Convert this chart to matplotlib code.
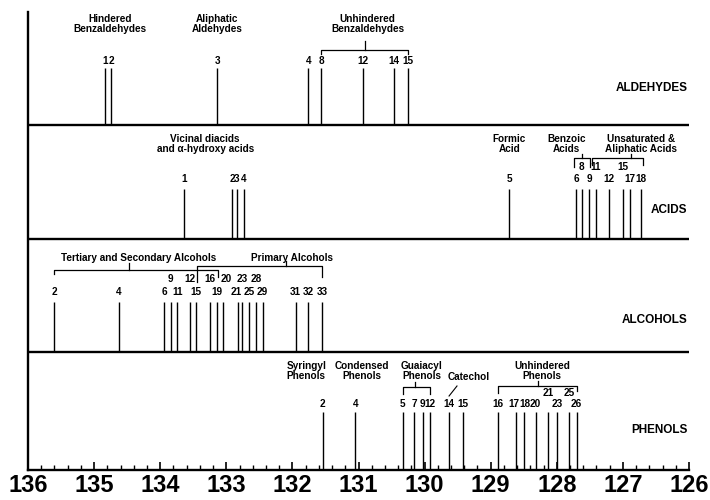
import matplotlib
matplotlib.use("Agg")
import matplotlib.pyplot as plt
from matplotlib.ticker import MultipleLocator

plt.rcParams["font.family"] = ["Liberation Sans", "DejaVu Sans"]
plt.rcParams["font.weight"] = "bold"

# line positions (ppm) and compound numbers
ald_ppm = [134.84, 134.74, 133.14, 131.76, 131.56, 130.93, 130.46, 130.25]
ald_lab = ["1", "2", "3", "4", "8", "12", "14", "15"]
ald_upper = []

acid_ppm = [133.64, 132.91, 132.84, 132.73, 128.72, 127.71, 127.62, 127.51,
            127.41, 127.21, 127.00, 126.90, 126.72]
acid_lab = ["1", "2", "3", "4", "5", "6", "8", "9", "11", "12", "15", "17", "18"]
acid_upper = ["8", "11", "15"]

alc_ppm = [135.60, 134.63, 133.94, 133.84, 133.74, 133.55, 133.46, 133.25, 133.14,
           133.05, 132.83, 132.76, 132.65, 132.55, 132.45, 131.95, 131.76, 131.55]
alc_lab = ["2", "4", "6", "9", "11", "12", "15", "16", "19", "20", "21", "23",
           "25", "28", "29", "31", "32", "33"]
alc_upper = ["9", "12", "16", "20", "23", "28"]

phe_ppm = [131.54, 131.05, 130.33, 130.16, 130.03, 129.92, 129.63, 129.42, 128.89,
           128.61, 128.50, 128.32, 128.13, 128.00, 127.81, 127.70]
phe_lab = ["2", "4", "5", "7", "9", "12", "14", "15", "16", "17", "18", "20",
           "21", "23", "25", "26"]
phe_upper = ["21", "25"]

panel_names = ["ALDEHYDES", "ACIDS", "ALCOHOLS", "PHENOLS"]

# group captions: (text, ppm of centre)
ald_groups = [("Hindered\nBenzaldehydes", 134.76), ("Aliphatic\nAldehydes", 133.14),
              ("Unhindered\nBenzaldehydes", 130.86)]
acid_groups = [("Vicinal diacids\nand \u03b1-hydroxy acids", 133.32), ("Formic\nAcid", 128.72),
               ("Benzoic\nAcids", 127.85), ("Unsaturated &\nAliphatic Acids", 126.72)]
alc_groups = [("Tertiary and Secondary Alcohols", 134.32), ("Primary Alcohols", 132.01)]
phe_groups = [("Syringyl\nPhenols", 131.79), ("Condensed\nPhenols", 130.95),
              ("Guaiacyl\nPhenols", 130.04), ("Catechol", 129.34),
              ("Unhindered\nPhenols", 128.22)]

# vertical layout, in pixel rows of the 500 px figure (axis runs 12..470)
base = [125, 239, 352, 470]
top = [68, 189, 302, 412]
row_lo = [61, 179, 292, 404]
row_hi = [61, 167, 279, 393]
title_y = [24, 144, 252, 371]
label_y = [88, 210, 320, 430]

fig = plt.figure(figsize=(7.1, 5.0), dpi=100)
ax = fig.add_axes([28 / 710, 30 / 500, 661 / 710, 458 / 500])
ax.set_xlim(136, 126)
ax.set_ylim(470, 12)

panels = [(ald_ppm, ald_lab, ald_upper, ald_groups),
          (acid_ppm, acid_lab, acid_upper, acid_groups),
          (alc_ppm, alc_lab, alc_upper, alc_groups),
          (phe_ppm, phe_lab, phe_upper, phe_groups)]

nudge = {("PHENOLS", "17"): -2.0, ("PHENOLS", "18"): 0.8, ("ALCOHOLS", "20"): 2.0,
         ("ALCOHOLS", "21"): -1.0}

fs = 7.2
for i, (ppm, lab, upper, groups) in enumerate(panels):
    ax.vlines(ppm, base[i], top[i], color="black", lw=1.0)
    for x, l in zip(ppm, lab):
        y = row_hi[i] if l in upper else row_lo[i]
        dx = nudge.get((panel_names[i], l), 0)
        ax.annotate(l, (x, y), xytext=(dx, 0), textcoords="offset points",
                    ha="center", va="center", fontsize=fs, fontweight="bold")
    for txt, x in groups:
        y = title_y[i] + (6 if "\n" not in txt else 0)
        ax.text(x, y, txt, ha="center", va="center", fontsize=fs,
                fontweight="bold", linespacing=1.05)
    ax.text(126.02, label_y[i], panel_names[i], ha="right", va="center",
            fontsize=8.5, fontweight="bold")
    if i < 3:
        ax.plot([136, 126], [base[i], base[i]], color="black", lw=1.7,
                solid_capstyle="butt")

# brackets: (left ppm, right ppm, mid ppm, y bar, y left end, y right end, y mid tip)
brackets = [
    (131.56, 130.25, 130.90, 50, 54, 54, 41),
    (127.74, 127.50, 127.62, 158, 167, 167, 154),
    (127.46, 126.70, 126.87, 158, 165, 165, 154),
    (135.60, 133.12, 134.47, 270, 274, 277, 263),
    (133.45, 131.55, 132.10, 266, 282, 277, 261),
    (130.33, 129.92, 130.15, 387, 394, 394, 382),
    (128.89, 127.70, 128.28, 386, 393, 391, 381),
]
for xl, xr, xm, yb, yl, yr, ym in brackets:
    ax.plot([xl, xl, xr, xr], [yl, yb, yb, yr], color="black", lw=0.9)
    ax.plot([xm, xm], [yb, ym], color="black", lw=0.9)
# pointer from Catechol to line 14
ax.plot([129.63, 129.51], [396, 386], color="black", lw=0.8)

for s in ["top", "right"]:
    ax.spines[s].set_visible(False)
ax.spines["left"].set_linewidth(1.7)
ax.spines["bottom"].set_linewidth(1.7)
ax.set_yticks([])
ax.set_xticks(range(136, 125, -1))
ax.set_xticklabels([str(v) for v in range(136, 125, -1)], fontsize=17,
                   fontweight="bold")
ax.xaxis.set_minor_locator(MultipleLocator(0.2))
ax.tick_params(axis="x", which="major", direction="in", length=6, width=1.2, pad=3)
ax.tick_params(axis="x", which="minor", direction="in", length=3.5, width=1.0)

fig.savefig("out.png", dpi=100, facecolor="white")
